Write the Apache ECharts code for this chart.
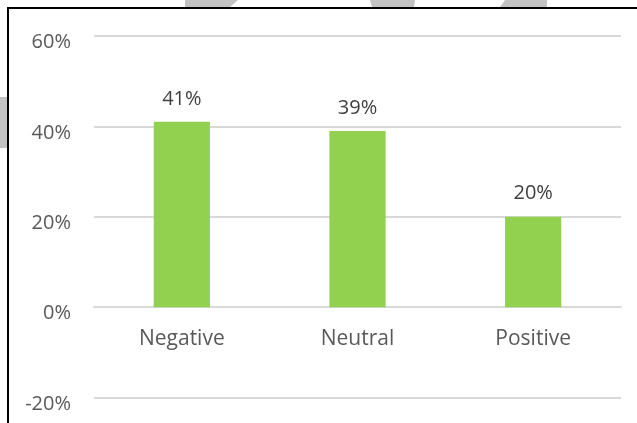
<!DOCTYPE html>
<html>
<head>
<meta charset="utf-8">
<script src="https://cdn.jsdelivr.net/npm/echarts@6/dist/echarts.min.js"></script>
<style>
html,body{margin:0;padding:0;background:#fff;}
#chart{width:637px;height:423px;}
</style>
</head>
<body>
<div id="chart"></div>
<script>
const categories = ['Negative', 'Neutral', 'Positive'];
const shares = [41, 39, 20];
const yTicks = { min: -20, max: 60, interval: 20 };

const GRID = { left: 94, right: 16, top: 36, bottom: 25.5 };
const H = 423;
const plotH = H - GRID.top - GRID.bottom;
// distance from the bottom of the plot to the zero line, from the axis scale
const zeroOffset = (0 - yTicks.min) / (yTicks.max - yTicks.min) * plotH;

const chart = echarts.init(document.getElementById('chart'));
const FONT = '"Open Sans", "Noto Sans", sans-serif';
chart.setOption({
  backgroundColor: '#ffffff',
  animation: false,
  graphic: [
    { type: 'polygon', silent: true, z: -10, shape: { points: [[185,0],[238,0],[230,7],[185,7]] }, style: { fill: '#c3c3c3' } },
    { type: 'polygon', silent: true, z: -10, shape: { points: [[370,0],[415,0],[414,7],[372,7]] }, style: { fill: '#c3c3c3' } },
    { type: 'polygon', silent: true, z: -10, shape: { points: [[505,0],[547,0],[547,7],[500,7]] }, style: { fill: '#c3c3c3' } },
    { type: 'rect', silent: true, z: -10, shape: { x: 0, y: 97, width: 8, height: 51 }, style: { fill: '#c3c3c3' } },
    { type: 'rect', silent: true, z: 100, shape: { x: 8, y: 8, width: 700, height: 500 }, style: { fill: 'none', stroke: '#000', lineWidth: 2 } }
  ],
  grid: { left: GRID.left, right: GRID.right, top: GRID.top, bottom: GRID.bottom, containLabel: false, outerBoundsMode: 'none' },
  xAxis: {
    type: 'category',
    data: categories,
    offset: -zeroOffset,
    axisLine: { show: true, onZero: false, lineStyle: { color: '#d9d9d9', width: 2 } },
    axisTick: { show: false },
    axisLabel: { color: '#595959', fontFamily: FONT, fontSize: 21, margin: 21 }
  },
  yAxis: {
    type: 'value',
    min: yTicks.min, max: yTicks.max, interval: yTicks.interval,
    axisLine: { show: false },
    axisTick: { show: false },
    splitLine: { lineStyle: { color: '#d9d9d9', width: 2 } },
    axisLabel: {
      margin: 23,
      formatter: '{t|{value}%}',
      rich: { t: { color: '#595959', fontFamily: FONT, fontSize: 20, padding: [13, 0, 0, 0] } }
    }
  },
  series: [{
    type: 'bar',
    data: shares,
    barWidth: '32%',
    itemStyle: { color: '#92d050' },
    label: { show: true, position: 'top', distance: 13, color: '#404040', fontFamily: FONT, fontSize: 20, formatter: '{c}%' }
  }]
});
</script>
</body>
</html>
